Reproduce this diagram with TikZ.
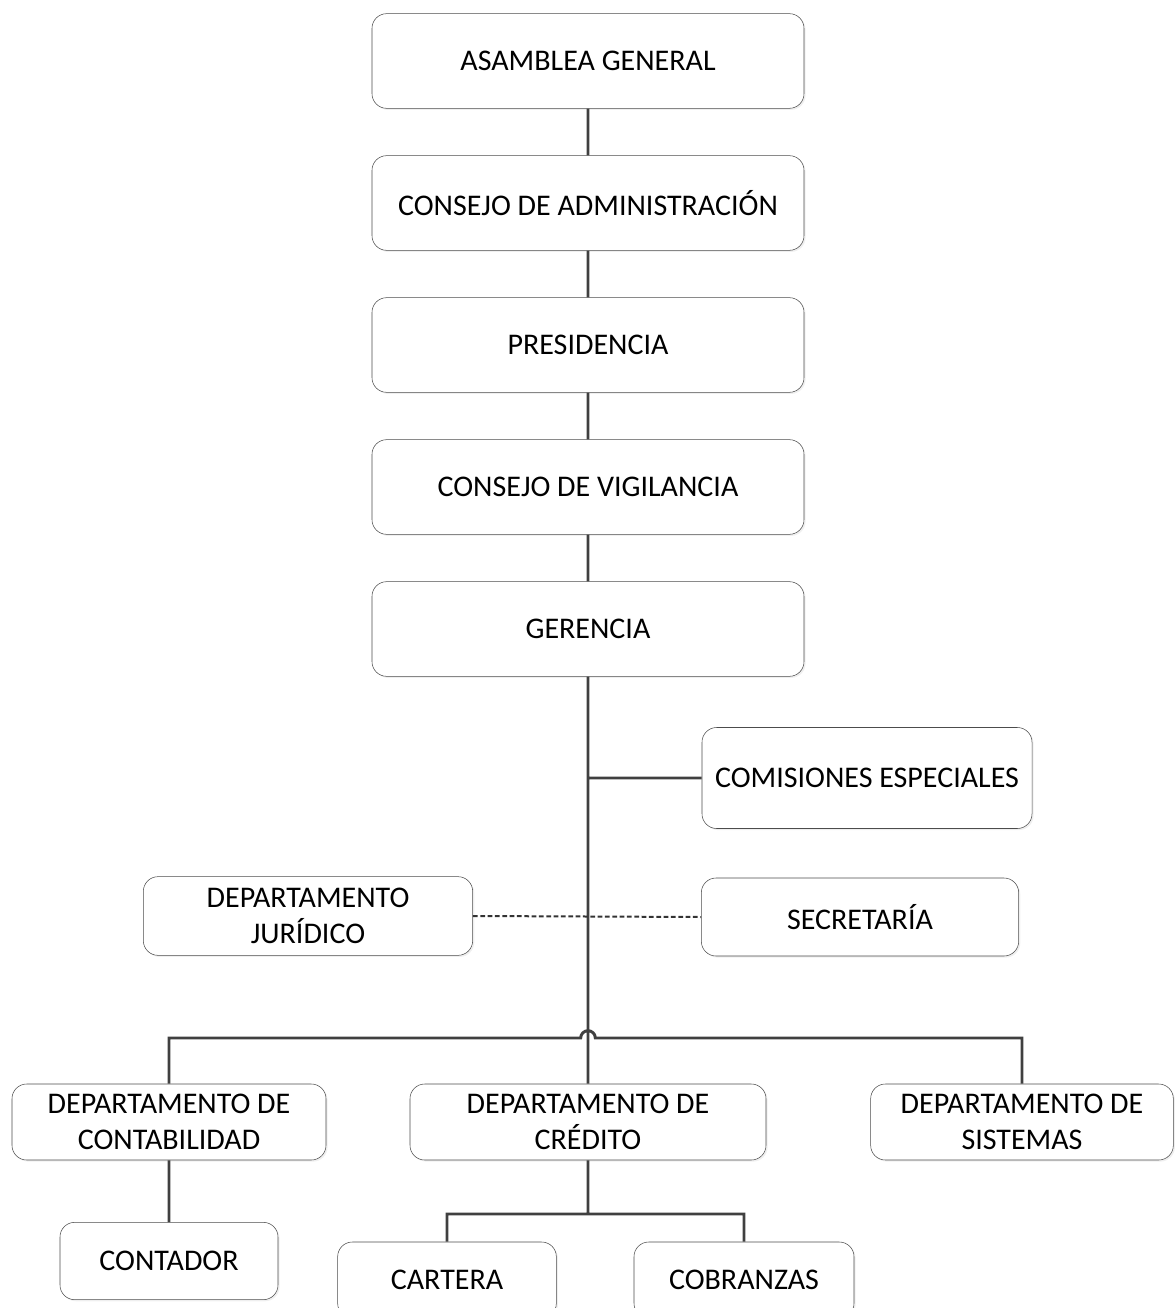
\documentclass[tikz,border=0pt]{standalone}
\usepackage{fontspec}
\setmainfont{Carlito}
\usepackage{tikz}
\usetikzlibrary{positioning, shadows}
\tikzset{
x=0.75pt, y=-0.75pt, % one unit is one pixel of the chart
node distance=106.5pt, % distance between the boxes of the main chain
box/.style={draw=black!70, thin, rounded corners=11pt, fill=white, inner sep=0pt,
  align=center, font=\fontsize{22.5}{27}\selectfont,
  drop shadow={shadow xshift=1.2pt, shadow yshift=-1.2pt, fill=black!12}}, % every box of the chart
main/.style={box, minimum width=324pt, minimum height=71pt}, % boxes of the main chain
link/.style={draw=black!75, line width=2.2pt}, % solid connectors
dotlink/.style={draw=black!80, line width=1.5pt, dash pattern=on 3.6pt off 1.9pt}, % dotted connector
}
\begin{document}
\begin{tikzpicture}
            \useasboundingbox (0,0) rectangle (1176,1308);
            % main chain
            \node[main] (asamblea) at (588,61) {ASAMBLEA GENERAL};
            \node[main, below of=asamblea] (consejo) {CONSEJO DE ADMINISTRACIÓN};
            \node[main, below of=consejo] (presidencia) {PRESIDENCIA};
            \node[main, below of=presidencia] (vigilancia) {CONSEJO DE VIGILANCIA};
            \node[main, below of=vigilancia] (gerencia) {GERENCIA};
            % staff boxes
            \node[box, minimum width=247.5pt, minimum height=75.75pt] (comisiones) at (867,778) {COMISIONES ESPECIALES};
            \node[box, minimum width=247pt, minimum height=59pt] (juridico) at (308,916) {DEPARTAMENTO\\JURÍDICO};
            \node[box, minimum width=238pt, minimum height=58.5pt] (secretaria) at (860,917) {SECRETARÍA};
            % departments
            \node[box, minimum width=235.5pt, minimum height=57pt] (contabilidad) at (169,1122) {DEPARTAMENTO DE\\CONTABILIDAD};
            \node[box, minimum width=267pt, minimum height=57pt] (credito) at (588,1122) {DEPARTAMENTO DE\\CRÉDITO};
            \node[box, minimum width=227pt, minimum height=57pt] (sistemas) at (1022,1122) {DEPARTAMENTO DE\\SISTEMAS};
            \node[box, minimum width=163.5pt, minimum height=58pt] (contador) at (169,1261) {CONTADOR};
            \node[box, minimum width=164pt, minimum height=57pt] (cartera) at (447,1280) {CARTERA};
            \node[box, minimum width=165pt, minimum height=57pt] (cobranzas) at (744,1280) {COBRANZAS};
            \coordinate (bar) at (588,1038);
            \coordinate (sub) at (588,1214);
            % connectors
            \draw[link]
                (asamblea) -- (consejo)
                (consejo) -- (presidencia)
                (presidencia) -- (vigilancia)
                (vigilancia) -- (gerencia)
                (gerencia) -- (credito)
                (comisiones.west) -- (comisiones.west -| gerencia.south)
                (contabilidad.north) |- ([xshift=-5.5pt]bar) arc[start angle=180, end angle=0, radius=5.5pt] -| (sistemas.north)
                (contabilidad) -- (contador)
                (credito.south) -- (sub)
                (cartera.north) |- (sub) -| (cobranzas.north)
                ;
            \draw[dotlink] (juridico.east) -- (secretaria.west);
\end{tikzpicture}
\end{document}
